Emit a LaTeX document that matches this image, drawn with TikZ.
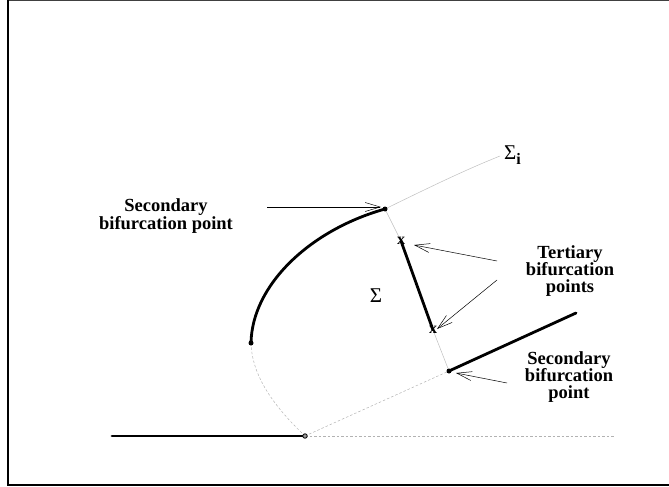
\documentclass[tikz,border=0pt]{standalone}
\usepackage{fontspec}
\setmainfont{Liberation Serif}
\usetikzlibrary{arrows.meta}
\begin{document}
\begin{tikzpicture}[x=1pt,y=-1pt,
  thickbranch/.style={line width=2.8pt,black,line cap=round},
  greybranch/.style={line width=0.5pt,black!25},
  dashbranch/.style={line width=0.5pt,black!30,dash pattern=on 2.5pt off 2pt},
  lbl/.style={font=\fontsize{18.5}{17.2}\selectfont\bfseries,align=center,inner sep=0pt},
  ptr/.style={line width=0.5pt,-{Straight Barb[length=15pt,width=9pt,line width=0.5pt]}},
  dot/.style={circle,fill=black,inner sep=0pt,minimum size=5pt},
  xmark/.style={font=\fontsize{16}{16}\selectfont\bfseries,inner sep=0pt}]
\useasboundingbox (0,0) rectangle (669,487);
% frame
\draw[line width=1.5pt,black!75] (7.5,0.7) -- (669,0.7);
\draw[line width=2pt,black] (7.5,0) -- (7.5,484.5) -- (669,484.5);
% coordinates
\coordinate (L) at (112,436);
\coordinate (O) at (305,436);
\coordinate (E) at (615,436);
\coordinate (A) at (251,343);
\coordinate (B) at (385,209);
\coordinate (Si) at (500,156);
\coordinate (C) at (449,371);
\coordinate (D) at (576,313);
\coordinate (T1) at (401,241);
\coordinate (T2) at (433,330);
% grey / dashed branches
\draw[dashbranch] (O) -- (E);
\draw[dashbranch] (O) .. controls (280,412) and (252,380) .. (A);
\draw[dashbranch] (O) -- (C);
\draw[greybranch] (B) .. controls (430,187) and (465,170) .. (Si);
\draw[greybranch] (B) -- (T1);
\draw[greybranch] (T2) -- (C);
% thick branches
\draw[thickbranch] (L) -- (O);
\draw[thickbranch] (A) .. controls (252,285) and (310,230) .. (B);
\draw[thickbranch] (T1) -- (T2);
\draw[thickbranch] (C) -- (D);
% points
\node[dot] (nA) at (A) {};
\node[dot] (nB) at (B) {};
\node[dot] (nC) at (C) {};
\node[circle,draw=black,fill=black!40,line width=0.8pt,inner sep=0pt,minimum size=4.5pt] (nO) at (O) {};
\node[xmark] (x1) at (T1) {x};
\node[xmark] (x2) at (T2) {x};
% Sigma labels
\node[font=\fontsize{21}{21}\selectfont,inner sep=0pt] (sig) at (376,296) {Σ};
\node[font=\fontsize{21}{21}\selectfont,inner sep=0pt,anchor=west] (sigi) at (504,155) {Σ\raisebox{-5pt}{\fontsize{16}{16}\selectfont\bfseries i}};
% text labels
\node[lbl] (s1) at (166,216) {Secondary\\bifurcation point};
\node[lbl] (t1) at (570,271) {Tertiary\\bifurcation\\points};
\node[lbl] (s2) at (569,377) {Secondary\\bifurcation\\point};
% pointers
\coordinate (a1s) at (267,207);
\coordinate (a1e) at (381,207);
\coordinate (a2s) at (497,261);
\coordinate (a2e) at (414,245);
\coordinate (a3s) at (497,280);
\coordinate (a3e) at (437,329);
\coordinate (a4s) at (507,383);
\coordinate (a4e) at (456,373);
\draw[ptr] (a1s) -- (a1e);
\draw[ptr] (a2s) -- (a2e);
\draw[ptr] (a3s) -- (a3e);
\draw[ptr] (a4s) -- (a4e);
\end{tikzpicture}
\end{document}
